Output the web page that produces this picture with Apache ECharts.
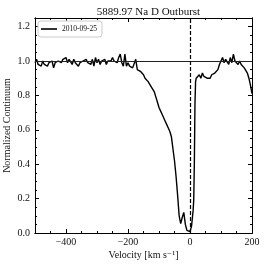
<!DOCTYPE html>
<html>
<head>
<meta charset="utf-8">
<script src="https://cdn.jsdelivr.net/npm/echarts@6/dist/echarts.min.js"></script>
<style>html,body{margin:0;padding:0;background:#fff;}#c{width:266px;height:267px;}</style>
</head>
<body>
<div id="c"></div>
<script>
var titleText = '5889.97 Na D Outburst';
var seriesName = '2010-09-25';
var velocity = [-500,-495,-490,-485,-480,-475,-470,-465,-460,-455,-450,-445,-440,-435,-430,-425,-420,-415,-410,-405,-400,-395,-390,-385,-380,-375,-370,-365,-360,-355,-350,-345,-340,-335,-330,-325,-320,-315,-310,-305,-300,-295,-290,-285,-280,-275,-270,-265,-260,-255,-250,-245,-240,-235,-230,-225,-220,-215,-210,-205,-200,-195,-190,-185,-180,-175,-170,-165,-160,-155,-150,-145,-140,-135,-130,-125,-120,-115,-110,-105,-100,-95,-90,-85,-80,-75,-70,-65,-60,-55,-50,-45,-40,-35,-30,-25,-20,-15,-10,-5,0,5,10,12,14,16,18,20,25,30,35,40,45,50,55,60,65,70,75,80,85,90,95,100,105,110,115,120,125,130,135,140,145,150,155,160,165,170,175,180,185,190,195,200];
var flux = [0.99,1.01,0.98,0.99,0.97,1.00,0.98,0.99,0.97,0.99,0.98,1.00,0.96,0.99,0.98,1.00,1.01,0.99,1.01,1.00,1.02,0.99,1.01,1.00,0.98,1.01,0.99,1.00,0.97,0.99,0.98,1.00,0.99,1.01,0.99,1.00,0.98,1.01,0.97,1.02,0.99,1.01,0.98,1.00,0.99,1.01,0.98,1.00,0.99,1.00,1.02,1.00,1.01,0.99,1.02,1.04,0.99,0.97,1.04,0.97,0.99,0.97,0.98,0.96,0.97,1.01,0.95,0.95,0.94,0.93,0.92,0.90,0.90,0.88,0.87,0.85,0.84,0.82,0.79,0.76,0.73,0.71,0.69,0.68,0.65,0.63,0.61,0.59,0.56,0.49,0.42,0.33,0.22,0.10,0.055,0.09,0.12,0.05,0.015,0.005,0.008,0.04,0.13,0.19,0.40,0.75,0.88,0.90,0.89,0.92,0.90,0.93,0.91,0.92,0.90,0.91,0.90,0.92,0.91,0.93,0.92,0.95,0.98,1.00,1.02,0.99,1.01,1.00,0.98,1.02,0.99,1.04,1.00,1.01,0.98,1.00,0.98,0.99,0.96,0.95,0.93,0.90,0.86,0.81];
var xMajorTicks = [-400,-200,0,200];
var yMajorTicks = [0,0.2,0.4,0.6,0.8,1.0,1.2];
var xRange = [-500,200];
var yRange = [0,1.25];
var refLevel = 1.0;
var refVelocity = 0;

var FONT = '"Liberation Serif", "DejaVu Serif", serif';
var data = velocity.map(function(v,i){return [v, flux[i]];});
function fmtX(v){ if (xMajorTicks.indexOf(v) < 0) return ''; return v < 0 ? '\u2212' + (-v) : String(v); }
function fmtY(v){ var k = v*5; if (Math.abs(k-Math.round(k)) > 1e-6) return ''; return v.toFixed(1); }
var lineC = '#000';
function xAx(pos, major, labels){
  return {
    type:'value', position:pos, min:xRange[0], max:xRange[1], interval:50, offset:0,
    axisLine:{show:true, onZero:false, lineStyle:{color:lineC, width:1}},
    axisTick:major ? {show:true, inside:true, length:4, customValues:xMajorTicks, lineStyle:{color:lineC}} : {show:true, inside:true, length:2, lineStyle:{color:lineC}},
    axisLabel:labels ? {show:true, formatter:fmtX, color:'#111', fontFamily:FONT, fontSize:10, margin:4, hideOverlap:false} : {show:false},
    splitLine:{show:false},
    name: labels ? 'Velocity [km s\u207B\u00B9]' : '', nameLocation:'middle', nameGap:17, nameMoveOverlap:false,
    nameTextStyle:{fontFamily:FONT, fontSize:10, color:'#111'}
  };
}
function yAx(pos, major, labels){
  return {
    type:'value', position:pos, min:yRange[0], max:yRange[1], interval:0.05, offset:0,
    axisLine:{show:true, onZero:false, lineStyle:{color:lineC, width:1}},
    axisTick:major ? {show:true, inside:true, length:4, customValues:yMajorTicks, lineStyle:{color:lineC}} : {show:true, inside:true, length:2, lineStyle:{color:lineC}},
    axisLabel:labels ? {show:true, formatter:fmtY, color:'#111', fontFamily:FONT, fontSize:10, margin:5, hideOverlap:false} : {show:false},
    splitLine:{show:false},
    name: labels ? 'Normalized Continuum' : '', nameLocation:'middle', nameGap:23, nameMoveOverlap:false,
    nameTextStyle:{fontFamily:FONT, fontSize:10, color:'#111'}
  };
}
var chart = echarts.init(document.getElementById('c'), null, {renderer:'canvas'});
chart.setOption({
  animation:false,
  backgroundColor:'#fff',
  title:{text:titleText, left:143.5, top:2, textAlign:'center', textStyle:{fontFamily:FONT, fontSize:11, fontWeight:'normal', color:'#111'}},
  legend:{show:true, left:38, top:21, orient:'vertical', itemWidth:16, itemHeight:1.6, itemGap:2,
    padding:[4,5,4,3], borderColor:'#ccc', borderWidth:1, borderRadius:3, backgroundColor:'#fff',
    textStyle:{fontFamily:FONT, fontSize:7.5, color:'#111', lineHeight:8},
    data:[{name:seriesName, icon:'rect', itemStyle:{color:'#000'}}]},
  grid:{left:35, right:14, top:18, bottom:34, containLabel:false, outerBoundsMode:'none'},
  xAxis:[xAx('bottom',false,true), xAx('bottom',true,false), xAx('top',false,false), xAx('top',true,false)],
  yAxis:[yAx('left',false,true), yAx('left',true,false), yAx('right',false,false), yAx('right',true,false)],
  series:[{
    name:seriesName, type:'line', xAxisIndex:0, yAxisIndex:0, data:data, showSymbol:false, symbol:'none',
    lineStyle:{color:'#000', width:1.4}, itemStyle:{color:'#000'}, clip:true,
    markLine:{silent:true, symbol:'none', label:{show:false}, animation:false,
      data:[
        {yAxis:refLevel, lineStyle:{color:'#222', width:1, type:'solid'}},
        {xAxis:refVelocity, lineStyle:{color:'#000', width:1.2, type:[4,2]}}
      ]}
  }]
});
</script>
</body>
</html>
